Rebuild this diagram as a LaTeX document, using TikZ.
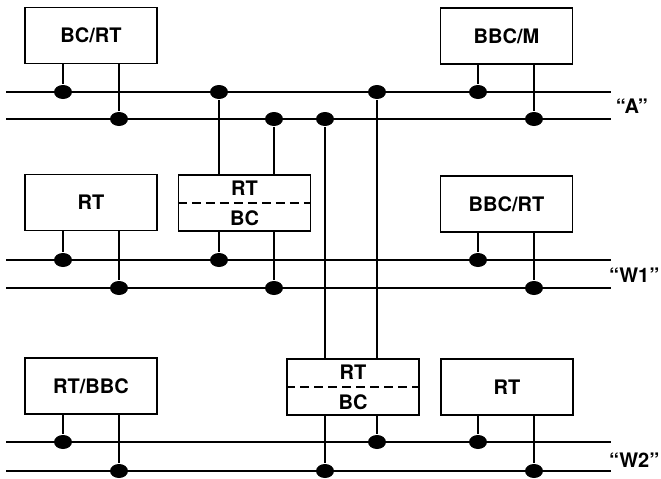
\documentclass[tikz,border=0pt]{standalone}
\usepackage{fontspec}
\setmainfont{TeX Gyre Heros}
\usetikzlibrary{shapes.geometric}

\begin{document}
\begin{tikzpicture}[x=1pt, y=-1pt, line width=1.3pt,
    font=\bfseries\fontsize{20}{23}\selectfont]

  \tikzset{box/.style={draw, minimum width=132pt, minimum height=56pt,
                       inner sep=0pt},
           dot/.style={ellipse, fill, minimum width=18pt,
                       minimum height=14pt, inner sep=0pt}}

  \useasboundingbox (0,0) rectangle (661,479);

  % the three buses, two lines each
  \foreach \n/\y in {a1/92, a2/119, b1/260, b2/288, c1/442, c2/471} {
    \coordinate (\n w) at (6,\y);
    \coordinate (\n e) at (611,\y);
    \draw (\n w) -- (\n e);
  }
  \node[anchor=west] (la) at (612,106) {“A”};
  \node[anchor=east, inner xsep=1pt] (lb) at (661,275) {“W1”};
  \node[anchor=east, inner xsep=1pt] (lc) at (661,460) {“W2”};

  % terminals
  \node[box] (bcrt)  at (91,35.5)   {BC/RT};
  \node[box] (bbcm)  at (506.5,36)  {BBC/M};
  \node[box] (rta)   at (91,202.5)  {RT};
  \node[box] (dual1) at (244.5,203) {};
  \node[box] (bbcrt) at (506.5,204) {BBC/RT};
  \node[box] (rtbbc) at (91,386)    {RT/BBC};
  \node[box] (dual2) at (353,387)   {};
  \node[box] (rtb)   at (507,387)   {RT};

  % dual terminals: RT on top, BC below
  \foreach \d in {dual1, dual2} {
    \draw[dash pattern=on 9pt off 5pt] (\d.west) -- (\d.east);
    \node (\d rt) at ([yshift=14.5pt]\d.center) {RT};
    \node (\d bc) at ([yshift=-15pt]\d.center) {BC};
  }

  % stubs to the bus lines
  \foreach \b/\s/\x/\l/\y in {bcrt/south/63/a1/92, bcrt/south/119/a2/119,
      bbcm/south/478/a1/92, bbcm/south/534/a2/119,
      dual1/north/219/a1/92, dual1/north/274/a2/119,
      dual2/north/377/a1/92, dual2/north/325/a2/119,
      rta/south/63/b1/260, rta/south/119/b2/288,
      dual1/south/219/b1/260, dual1/south/274/b2/288,
      bbcrt/south/478/b1/260, bbcrt/south/534/b2/288,
      rtbbc/south/63/c1/442, rtbbc/south/119/c2/471,
      dual2/south/377/c1/442, dual2/south/325/c2/471,
      rtb/south/478/c1/442, rtb/south/534/c2/471} {
    \node[dot] (\b-\l) at (\x,\y) {};
    \draw (\b.\s -| \b-\l) -- (\b-\l);
  }

\end{tikzpicture}
\end{document}
